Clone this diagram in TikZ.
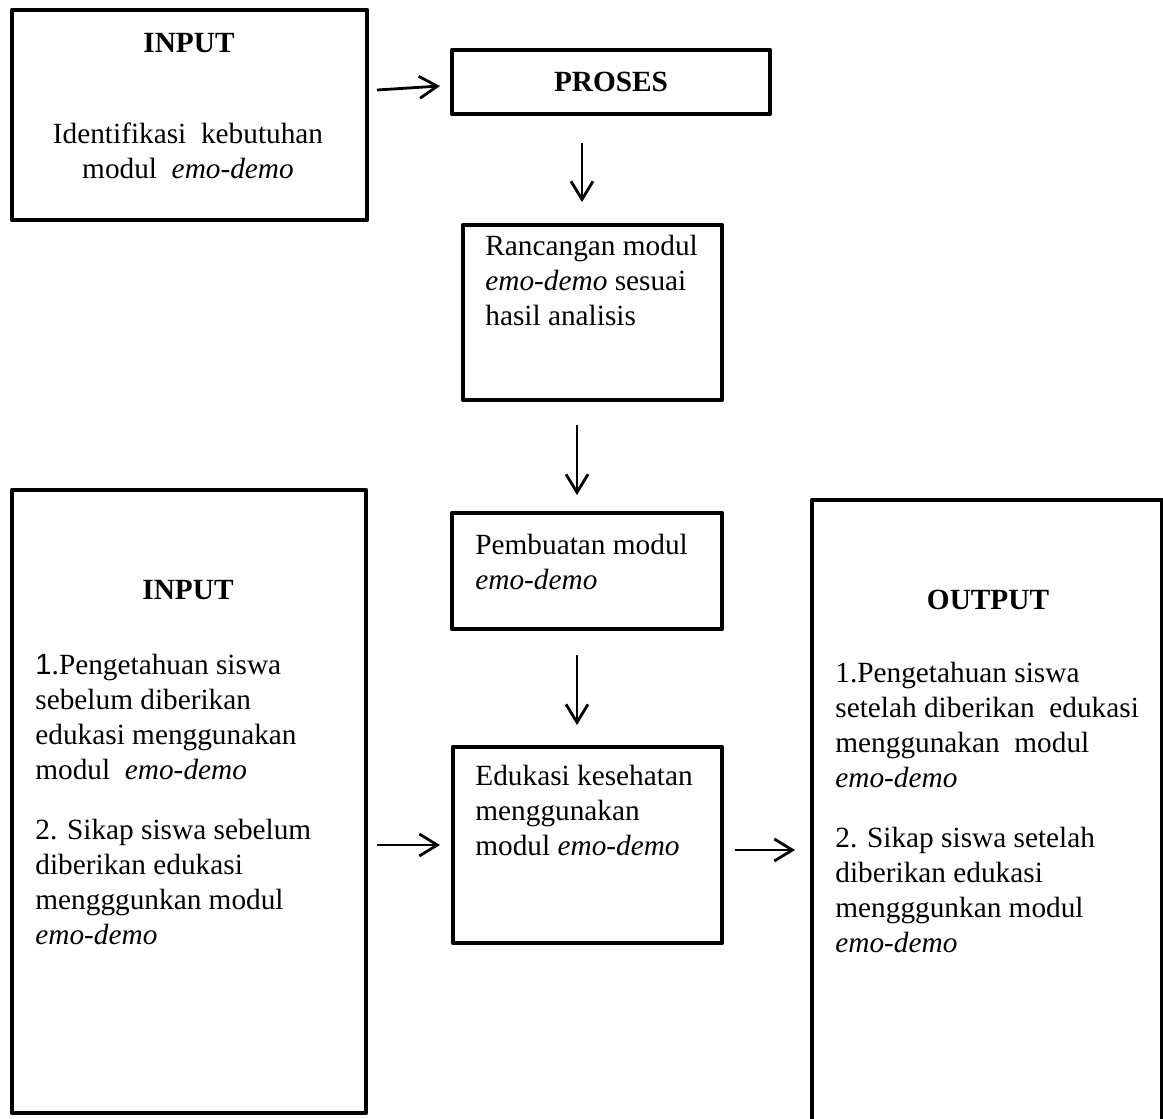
\documentclass[tikz,border=0pt]{standalone}
\usepackage{fontspec}
\setmainfont{Liberation Serif}
\newfontfamily\arialfont{Liberation Sans}
\usetikzlibrary{arrows.meta}

\tikzset{
  box/.style={draw, line width=2.3pt, line join=round, inner sep=0pt, outer sep=0pt},
  txt/.style={inner sep=0pt, font=\fontsize{14.65}{17.5}\selectfont},
  title/.style={inner sep=0pt, font=\fontsize{14.65}{17.5}\selectfont\bfseries},
  arr/.style={line width=1.4pt, -{Straight Barb[length=9pt, width=11pt, line width=1.4pt]}}
}

\begin{document}
\begin{tikzpicture}[x=0.5pt, y=-0.5pt]
\useasboundingbox (0,0) rectangle (1163,1119);

\node [box, minimum width=177.5pt, minimum height=105pt] (inputa) at (189.5,115) {};
\node [box, minimum width=159pt, minimum height=32pt] (proses) at (611,82) {};
\node [box, minimum width=129.5pt, minimum height=87.5pt] (rancangan) at (592.5,312.5) {};
\node [box, minimum width=135pt, minimum height=58pt] (pembuatan) at (587,571) {};
\node [box, minimum width=134.5pt, minimum height=98pt] (edukasi) at (587.5,845) {};
\node [box, minimum width=177pt, minimum height=311.5pt] (inputb) at (189,801.5) {};
\node [box, minimum width=175pt, minimum height=315pt] (output) at (987,815) {};

\draw [arr] ([shift={(10,-25)}]inputa.east) -- ([shift={(-12,4)}]proses.west);
\draw [arr] ([shift={(-29,29)}]proses.south) -- ([shift={(-10.5,-23)}]rancangan.north);
\draw [arr] ([shift={(-15.5,25)}]rancangan.south) -- ([shift={(-10,-18)}]pembuatan.north);
\draw [arr] ([shift={(-10,26)}]pembuatan.south) -- ([shift={(-10.5,-22)}]edukasi.north);
\draw [arr] ([shift={(11,43.5)}]inputb.east) -- ([shift={(-13,0)}]edukasi.west);
\draw [arr] ([shift={(13,5)}]edukasi.east) -- ([shift={(-17,35)}]output.west);

\node [title] (inputatitle) at (189,43) {INPUT};
\node [txt, align=center] (inputatext) at (188,151) {Identifikasi\ \ kebutuhan\\modul\ \ \textit{emo-demo}};
\node [title] (prosestitle) at (611,82) {PROSES};
\node [txt, align=left, anchor=north west] (rancangantext) at (485,235) {Rancangan modul\\\textit{emo-demo} sesuai\\hasil analisis};
\node [txt, align=left, anchor=north west] (pembuatantext) at (475,534) {Pembuatan modul\\\textit{emo-demo}};
\node [txt, align=left, anchor=north west] (edukasitext) at (475,765) {Edukasi kesehatan\\menggunakan\\modul \textit{emo-demo}};
\node [title] (inputbtitle) at (188,590) {INPUT};
\node [txt, align=left, anchor=north west] (inputbtext) at (35,654) {{\arialfont 1}.Pengetahuan siswa\\sebelum diberikan\\edukasi menggunakan\\modul\ \ \textit{emo-demo}\\[12.5pt]2. Sikap siswa sebelum\\diberikan edukasi\\mengggunkan modul\\\textit{emo-demo}};
\node [title] (outputtitle) at (988,600) {OUTPUT};
\node [txt, align=left, anchor=north west] (outputtext) at (835,662) {1.Pengetahuan siswa\\setelah diberikan\ \ edukasi\\menggunakan\ \ modul\\\textit{emo-demo}\\[12.5pt]2. Sikap siswa setelah\\diberikan edukasi\\mengggunkan modul\\\textit{emo-demo}};

\end{tikzpicture}
\end{document}
